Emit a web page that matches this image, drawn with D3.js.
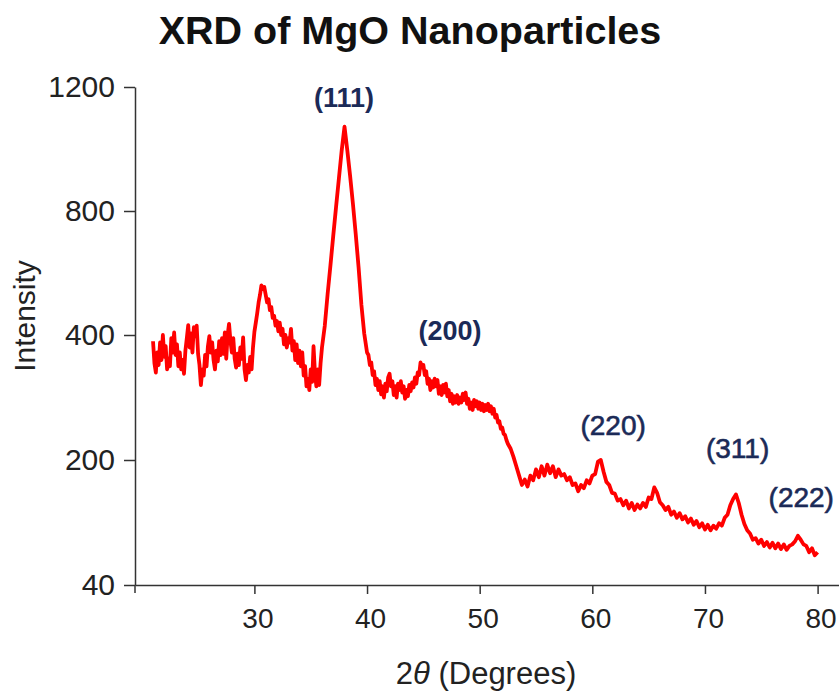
<!DOCTYPE html>
<html lang="en">
<head>
  <meta charset="UTF-8">
  <title>XRD of MgO Nanoparticles</title>
  <style>
    body {
      margin: 0;
      background: #fff;
      font-family: "Liberation Sans", Arial, sans-serif;
    }
    .axis path, .axis line {
      stroke: #333;
      stroke-width: 1.5;
    }
    .axis text {
      fill: #222;
      font-family: "Liberation Sans", Arial, sans-serif;
    }
  </style>
</head>
<body>
  <div id="chart"></div>

  <script src="https://d3js.org/d3.v7.min.js"></script>
  <script>
    // 21.000 - 36.000 deg, step 0.125 (noisy background + small peak near 30.7)
    const lowStart = 21;
    const lowStep = 0.125;
    const lowIntensity = [
      390, 355, 340, 372, 352, 388, 360, 400,   // 21
      365, 382, 345, 362, 350, 395, 372, 408,   // 22
      368, 385, 350, 372, 345, 360, 338, 375,   // 23
      395, 432, 380, 405, 372, 425, 398, 430,   // 24
      370, 352, 320, 345, 335, 368, 350, 382,   // 25
      398, 372, 388, 360, 345, 375, 358, 390,   // 26
      368, 395, 370, 408, 362, 400, 436, 390,   // 27
      372, 395, 362, 348, 370, 352, 380, 362,   // 28
      396, 345, 328, 352, 340, 365, 345, 380,   // 29
      410, 440, 470, 505, 530, 560, 548, 555,   // 30
      530, 505, 515, 480, 490, 455, 462, 430,   // 31
      445, 412, 440, 400, 420, 385, 400, 380,   // 32
      395, 388, 420, 375, 390, 360, 385, 355,   // 33
      375, 350, 372, 335, 350, 318, 330, 312,   // 34
      345, 325, 382, 340, 318, 345, 320, 355,   // 35
      380
    ];

    // 36.25 - 40.00 deg, step 0.25 (111 peak)
    const peakStart = 36.25;
    const peakStep = 0.25;
    const peakIntensity = [
      430, 532, 624, 720, 813, 904, 995, 1072, 995, 912, 822, 724, 618, 497, 405, 372
    ];

    // 40.125 - 52.375 deg, step 0.125 (200 peak and shoulder)
    const midStart = 40.125;
    const midStep = 0.125;
    const midIntensity = [
      368, 352, 356, 336, 342, 320, 330,        // 40
      312, 326, 305, 318, 300, 322, 310, 332,   // 41
      338, 318, 326, 304, 318, 300, 322, 312,   // 42
      326, 308, 318, 298, 312, 302, 320, 310,   // 43
      324, 316, 332, 322, 340, 336, 356, 348,   // 44
      352, 336, 342, 322, 330, 312, 326, 316,   // 45
      330, 318, 328, 306, 318, 304, 320, 308,   // 46
      322, 302, 312, 294, 306, 290, 302, 292,   // 47
      304, 290, 300, 292, 306, 296, 308, 290,   // 48
      298, 282, 292, 280, 296, 286, 294, 282,   // 49
      292, 280, 290, 278, 288, 280, 290, 278,   // 50
      286, 274, 282, 268, 272, 260, 262, 250,   // 51
      252, 242, 240, 232                        // 52
    ];

    // 52.50 - 80.00 deg, step 0.25 (220, 311, 222 peaks)
    const highStart = 52.5;
    const highStep = 0.25;
    const highIntensity = [
      // 52.50 - 64.25
      226, 218, 205, 192, 180, 168, 175, 166, 180, 174, 188, 178, 192, 180, 194, 183,
      192, 178, 188, 180, 182, 174, 178, 168, 170, 160, 168, 164, 174, 170, 180, 182,
      198, 200, 185, 172, 168, 158, 157, 148, 150, 142, 148, 138, 145, 136, 143, 138,
      // 64.50 - 80.00
      145, 140, 152, 150, 165, 158, 146, 142, 136, 140, 130, 134, 126, 132, 124, 128,
      120, 125, 117, 122, 114, 119, 111, 117, 110, 116, 112, 119, 116, 126, 130, 142,
      150, 156, 145, 130, 118, 110, 106, 98, 100, 93, 98, 90, 95, 88, 94, 87,
      93, 86, 92, 85, 90, 92, 96, 103, 98, 92, 90, 82, 87, 78, 82
    ];

    const xTicks = [30, 40, 50, 60, 70, 80];
    const yTicks = [40, 200, 400, 800, 1200];

    // Miller index labels and where they sit (2theta, intensity)
    const peakLabels = ["(111)", "(200)", "(220)", "(311)", "(222)"];
    const peakLabelTheta = [37.96, 47.37, 61.85, 72.9, 78.55];
    const peakLabelIntensity = [1136, 392, 240, 203, 140];
    const peakLabelBold = [true, true, false, false, false];

    const width = 839, height = 693;

    function segment(start, step, values) {
      return values.map((v, i) => ({ theta: start + i * step, value: v }));
    }

    const data = segment(lowStart, lowStep, lowIntensity)
      .concat(segment(peakStart, peakStep, peakIntensity))
      .concat(segment(midStart, midStep, midIntensity))
      .concat(segment(highStart, highStep, highIntensity));

    const svg = d3.select("#chart").append("svg")
      .attr("width", width)
      .attr("height", height);

    const x = d3.scaleLinear()
      .domain([19.4, 81.9])
      .range([135, 839]);

    // the y axis in the picture has evenly spaced, uneven ticks
    const y = d3.scaleLinear()
      .domain(yTicks)
      .range([585, 460, 335, 211, 87]);

    // title
    svg.append("text")
      .attr("x", 410)
      .attr("y", 44)
      .attr("text-anchor", "middle")
      .style("font-size", "39.5px")
      .style("font-weight", "bold")
      .style("fill", "#111")
      .text("XRD of MgO Nanoparticles");

    // x axis
    const xAxis = svg.append("g")
      .attr("class", "axis")
      .attr("transform", "translate(0,585)")
      .call(d3.axisBottom(x)
        .tickValues(xTicks)
        .tickSize(9)
        .tickSizeOuter(0)
        .tickPadding(14));
    xAxis.selectAll("text")
      .attr("dx", 3)
      .style("font-size", "28px");

    // y axis
    const yAxis = svg.append("g")
      .attr("class", "axis")
      .attr("transform", "translate(135,0)")
      .call(d3.axisLeft(y)
        .tickValues(yTicks)
        .tickFormat(d3.format("d"))
        .tickSize(11)
        .tickSizeOuter(0)
        .tickPadding(9));
    yAxis.selectAll("text")
      .style("font-size", "30px");

    // y axis runs a little past the x axis
    yAxis.append("line")
      .attr("x1", 0).attr("x2", 0)
      .attr("y1", y(40)).attr("y2", y(40) + 8);

    // axis titles
    svg.append("text")
      .attr("transform", "translate(35,316) rotate(-90)")
      .attr("text-anchor", "middle")
      .style("font-size", "30px")
      .style("fill", "#222")
      .text("Intensity");

    const xTitle = svg.append("text")
      .attr("x", 486)
      .attr("y", 684)
      .attr("text-anchor", "middle")
      .style("font-size", "31px")
      .style("fill", "#222");
    xTitle.append("tspan").text("2");
    xTitle.append("tspan").style("font-style", "italic").text("\u03b8");
    xTitle.append("tspan").text(" (Degrees)");

    // pattern
    const line = d3.line()
      .x(d => x(d.theta))
      .y(d => y(d.value));

    svg.append("path")
      .datum(data)
      .attr("fill", "none")
      .attr("stroke", "#ff0000")
      .attr("stroke-width", 3.8)
      .attr("stroke-linejoin", "round")
      .attr("d", line);

    // peak labels
    svg.selectAll(".peak")
      .data(peakLabels)
      .enter()
      .append("text")
      .attr("class", "peak")
      .attr("x", (d, i) => x(peakLabelTheta[i]))
      .attr("y", (d, i) => y(peakLabelIntensity[i]))
      .attr("text-anchor", "middle")
      .style("font-size", (d, i) => peakLabelBold[i] ? "27px" : "28px")
      .style("font-weight", (d, i) => peakLabelBold[i] ? "bold" : "normal")
      .style("fill", "#1b2a57")
      .style("stroke", "#1b2a57")
      .style("stroke-width", (d, i) => peakLabelBold[i] ? 0 : 0.6)
      .text(d => d);
  </script>
</body>
</html>
